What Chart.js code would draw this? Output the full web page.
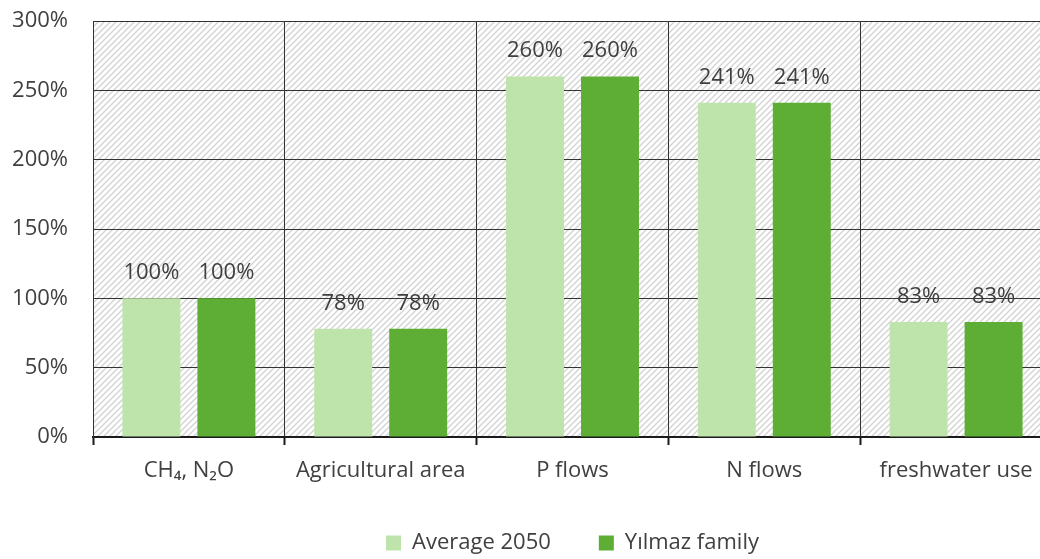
<!DOCTYPE html>
<html>
<head>
<meta charset="utf-8">
<script src="https://cdn.jsdelivr.net/npm/chart.js@4"></script>
<style>
  html, body { margin: 0; padding: 0; overflow: hidden; background: #fff; }
  canvas { display: block; }
</style>
</head>
<body>
<canvas id="chart" width="1054" height="564"></canvas>
<script>
// chart values
var categories = ['CH\u2084, N\u2082O', 'Agricultural area', 'P flows', 'N flows', 'freshwater use'];
var average2050 = [100, 78, 260, 241, 83];
var yilmazFamily = [100, 78, 260, 241, 83];
var yTicks = [0, 50, 100, 150, 200, 250, 300];

var textColor = '#404040';
var fontFamily = '"Open Sans", "Noto Sans", sans-serif';

// light grey diagonal hatch behind the plot area
function makeHatch() {
    var c = document.createElement('canvas');
    c.width = 6; c.height = 6;
    var g = c.getContext('2d');
    g.strokeStyle = '#d2d2d2';
    g.lineWidth = 1.3;
    g.beginPath();
    g.moveTo(0, 6); g.lineTo(6, 0);
    g.moveTo(-1, 1); g.lineTo(1, -1);
    g.moveTo(5, 7); g.lineTo(7, 5);
    g.stroke();
    return c;
}

var hatchPlugin = {
    id: 'hatch',
    beforeDraw: function(chart) {
        var ctx = chart.ctx, a = chart.chartArea;
        ctx.save();
        ctx.fillStyle = ctx.createPattern(makeHatch(), 'repeat');
        ctx.fillRect(a.left, a.top, a.right - a.left, a.bottom - a.top);
        ctx.restore();
    }
};

// value labels above each bar
var valueLabels = {
    id: 'valueLabels',
    afterDatasetsDraw: function(chart) {
        var ctx = chart.ctx;
        ctx.save();
        ctx.font = '22px ' + fontFamily;
        ctx.fillStyle = textColor;
        ctx.textAlign = 'center';
        ctx.textBaseline = 'alphabetic';
        chart.data.datasets.forEach(function(ds, i) {
            chart.getDatasetMeta(i).data.forEach(function(bar, j) {
                ctx.fillText(ds.data[j] + '%', bar.x, bar.y - 19);
            });
        });
        ctx.restore();
    }
};

new Chart(document.getElementById('chart'), {
    type: 'bar',
    data: {
        labels: categories,
        datasets: [
            { label: 'Average 2050', data: average2050, backgroundColor: '#bee4ab', borderWidth: 0,
              categoryPercentage: 0.782, barPercentage: 0.773 },
            { label: 'Y\u0131lmaz family', data: yilmazFamily, backgroundColor: '#5eae36', borderWidth: 0,
              categoryPercentage: 0.782, barPercentage: 0.773 }
        ]
    },
    options: {
        responsive: false,
        animation: false,
        layout: { padding: { left: 0, top: 21, right: 2, bottom: 0 } },
        plugins: {
            tooltip: { enabled: false },
            legend: {
                position: 'bottom',
                fullSize: false,
                labels: {
                    boxWidth: 15, boxHeight: 15, padding: 48,
                    color: textColor,
                    font: { family: fontFamily, size: 22 }
                }
            }
        },
        scales: {
            x: {
                grid: { color: '#333333', lineWidth: 1, tickLength: 8, tickColor: '#1a1a1a', tickWidth: 2 },
                border: { color: '#1a1a1a', width: 2 },
                ticks: { color: textColor, padding: 13, font: { family: fontFamily, size: 22 }, maxRotation: 0 },
                afterFit: function(scale) { scale.height = 47; }
            },
            y: {
                min: 0, max: 300,
                afterBuildTicks: function(scale) {
                    scale.ticks = yTicks.map(function(v) { return { value: v }; });
                },
                grid: { color: '#333333', lineWidth: 1, drawTicks: false },
                border: { color: '#333333', width: 1 },
                ticks: {
                    color: textColor, padding: 25,
                    font: { family: fontFamily, size: 22 },
                    callback: function(v) { return v + '%'; }
                },
                afterFit: function(scale) {
                    scale.width = 93;
                    scale.paddingTop = 13;
                    scale.paddingBottom = 13;
                }
            }
        }
    },
    plugins: [hatchPlugin, valueLabels]
});
</script>
</body>
</html>
